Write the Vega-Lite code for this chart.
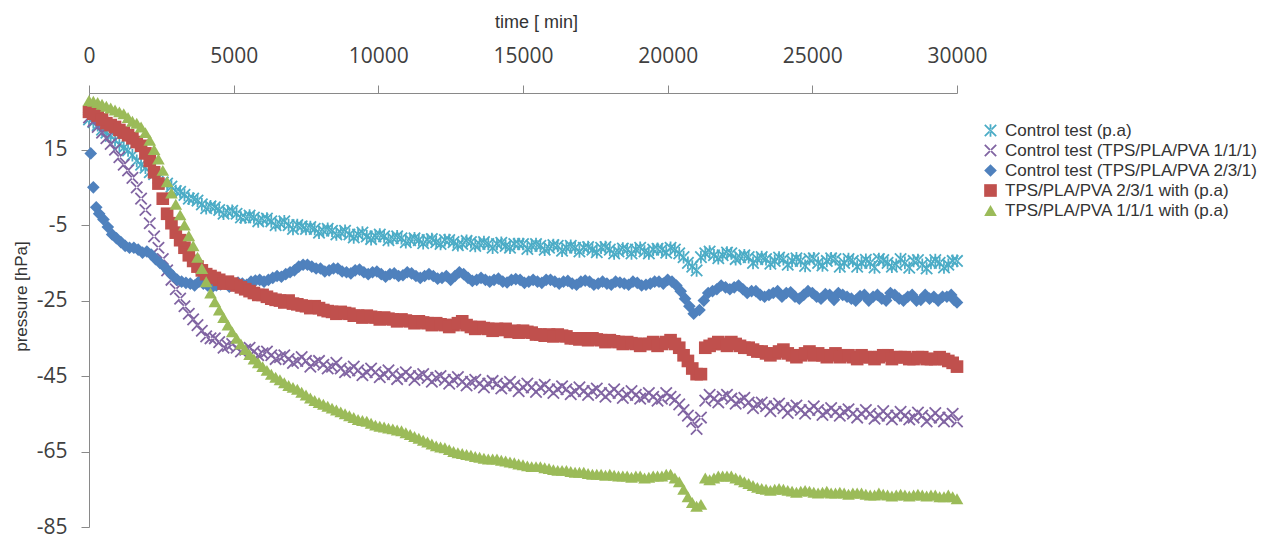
{
"$schema": "https://vega.github.io/schema/vega-lite/v6.json",
"autosize": {"type": "none"},
"width": 868,
"height": 434,
"padding": {"left": 89, "top": 93, "right": 312, "bottom": 11},
"background": "white",
"config": {"view": {"stroke": null}},
"data": {"values": [
{"s":"C","t":0,"p":23},{"s":"C","t":300,"p":21.5},{"s":"C","t":600,"p":19.5},{"s":"C","t":900,"p":17.5},{"s":"C","t":1200,"p":15.5},{"s":"C","t":1500,"p":13.5},{"s":"C","t":1800,"p":11},{"s":"C","t":2100,"p":9},{"s":"C","t":2400,"p":7.5},{"s":"C","t":2700,"p":6},{"s":"C","t":3000,"p":4},{"s":"C","t":3300,"p":3},{"s":"C","t":3600,"p":2},{"s":"C","t":3900,"p":0.5},{"s":"C","t":4200,"p":0},{"s":"C","t":4500,"p":-1},{"s":"C","t":4800,"p":-1.5},{"s":"C","t":5100,"p":-2},{"s":"C","t":5400,"p":-3},{"s":"C","t":5700,"p":-3},{"s":"C","t":6000,"p":-3.5},{"s":"C","t":6300,"p":-4},{"s":"C","t":6600,"p":-4.5},{"s":"C","t":6900,"p":-5},{"s":"C","t":7200,"p":-5},{"s":"C","t":7500,"p":-6},{"s":"C","t":7800,"p":-6},{"s":"C","t":8100,"p":-6.5},{"s":"C","t":8400,"p":-6.5},{"s":"C","t":8700,"p":-7},{"s":"C","t":9000,"p":-7.5},{"s":"C","t":9300,"p":-7.5},{"s":"C","t":9600,"p":-8},{"s":"C","t":9900,"p":-8},{"s":"C","t":10200,"p":-8},{"s":"C","t":10500,"p":-8.5},{"s":"C","t":10800,"p":-8.5},{"s":"C","t":11100,"p":-9},{"s":"C","t":11400,"p":-9},{"s":"C","t":11700,"p":-9},{"s":"C","t":12000,"p":-9.5},{"s":"C","t":12300,"p":-9},{"s":"C","t":12600,"p":-9.5},{"s":"C","t":12900,"p":-10},{"s":"C","t":13200,"p":-9.5},{"s":"C","t":13500,"p":-10},{"s":"C","t":13800,"p":-10},{"s":"C","t":14100,"p":-10},{"s":"C","t":14400,"p":-10.5},{"s":"C","t":14700,"p":-10},{"s":"C","t":15000,"p":-10},{"s":"C","t":15300,"p":-10.5},{"s":"C","t":15600,"p":-10.5},{"s":"C","t":15900,"p":-11},{"s":"C","t":16200,"p":-10.5},{"s":"C","t":16500,"p":-11},{"s":"C","t":16800,"p":-11},{"s":"C","t":17100,"p":-11},{"s":"C","t":17400,"p":-11.5},{"s":"C","t":17700,"p":-11},{"s":"C","t":18000,"p":-11.5},{"s":"C","t":18300,"p":-12},{"s":"C","t":18600,"p":-11.5},{"s":"C","t":18900,"p":-11.5},{"s":"C","t":19200,"p":-12},{"s":"C","t":19500,"p":-11.5},{"s":"C","t":19800,"p":-11.5},{"s":"C","t":20100,"p":-11},{"s":"C","t":20400,"p":-12.5},{"s":"C","t":20700,"p":-15},{"s":"C","t":21000,"p":-17},{"s":"C","t":21300,"p":-12.5},{"s":"C","t":21600,"p":-13},{"s":"C","t":21900,"p":-13},{"s":"C","t":22200,"p":-12.5},{"s":"C","t":22500,"p":-13.5},{"s":"C","t":22800,"p":-13.5},{"s":"C","t":23100,"p":-14},{"s":"C","t":23400,"p":-14},{"s":"C","t":23700,"p":-14.5},{"s":"C","t":24000,"p":-14},{"s":"C","t":24300,"p":-14.5},{"s":"C","t":24600,"p":-14.5},{"s":"C","t":24900,"p":-14},{"s":"C","t":25200,"p":-15},{"s":"C","t":25500,"p":-14.5},{"s":"C","t":25800,"p":-14},{"s":"C","t":26100,"p":-15},{"s":"C","t":26400,"p":-14.5},{"s":"C","t":26700,"p":-15},{"s":"C","t":27000,"p":-15},{"s":"C","t":27300,"p":-14},{"s":"C","t":27600,"p":-15},{"s":"C","t":27900,"p":-15.5},{"s":"C","t":28200,"p":-15},{"s":"C","t":28500,"p":-14.5},{"s":"C","t":28800,"p":-15.5},{"s":"C","t":29100,"p":-15},{"s":"C","t":29400,"p":-15},{"s":"C","t":29700,"p":-15.5},{"s":"C","t":30000,"p":-14.5},
{"s":"C","t":150,"p":22.3},{"s":"C","t":450,"p":20.3},{"s":"C","t":750,"p":18.6},{"s":"C","t":1050,"p":16.3},{"s":"C","t":1350,"p":14.8},{"s":"C","t":1650,"p":12},{"s":"C","t":1950,"p":10.2},{"s":"C","t":2250,"p":8.5},{"s":"C","t":2550,"p":6.3},{"s":"C","t":2850,"p":5.2},{"s":"C","t":3150,"p":3.8},{"s":"C","t":3450,"p":2},{"s":"C","t":3750,"p":1.5},{"s":"C","t":4050,"p":-0.5},{"s":"C","t":4350,"p":-0.3},{"s":"C","t":4650,"p":-2},{"s":"C","t":4950,"p":-1.2},{"s":"C","t":5250,"p":-3},{"s":"C","t":5550,"p":-2.5},{"s":"C","t":5850,"p":-4},{"s":"C","t":6150,"p":-3.3},{"s":"C","t":6450,"p":-5},{"s":"C","t":6750,"p":-4},{"s":"C","t":7050,"p":-6},{"s":"C","t":7350,"p":-5.3},{"s":"C","t":7650,"p":-5.5},{"s":"C","t":7950,"p":-7},{"s":"C","t":8250,"p":-6},{"s":"C","t":8550,"p":-7.5},{"s":"C","t":8850,"p":-6.5},{"s":"C","t":9150,"p":-8.3},{"s":"C","t":9450,"p":-7},{"s":"C","t":9750,"p":-8.7},{"s":"C","t":10050,"p":-7.5},{"s":"C","t":10350,"p":-9},{"s":"C","t":10650,"p":-8},{"s":"C","t":10950,"p":-9.5},{"s":"C","t":11250,"p":-8.5},{"s":"C","t":11550,"p":-9.8},{"s":"C","t":11850,"p":-8.7},{"s":"C","t":12150,"p":-10},{"s":"C","t":12450,"p":-9},{"s":"C","t":12750,"p":-10.3},{"s":"C","t":13050,"p":-9.2},{"s":"C","t":13350,"p":-10.5},{"s":"C","t":13650,"p":-9.5},{"s":"C","t":13950,"p":-11},{"s":"C","t":14250,"p":-9.7},{"s":"C","t":14550,"p":-11},{"s":"C","t":14850,"p":-10},{"s":"C","t":15150,"p":-11.3},{"s":"C","t":15450,"p":-10},{"s":"C","t":15750,"p":-11.5},{"s":"C","t":16050,"p":-10.3},{"s":"C","t":16350,"p":-11.8},{"s":"C","t":16650,"p":-10.5},{"s":"C","t":16950,"p":-12},{"s":"C","t":17250,"p":-10.8},{"s":"C","t":17550,"p":-12.2},{"s":"C","t":17850,"p":-10.8},{"s":"C","t":18150,"p":-12.5},{"s":"C","t":18450,"p":-11.2},{"s":"C","t":18750,"p":-12.5},{"s":"C","t":19050,"p":-11},{"s":"C","t":19350,"p":-12.5},{"s":"C","t":19650,"p":-11.3},{"s":"C","t":19950,"p":-12.3},{"s":"C","t":20250,"p":-11.5},{"s":"C","t":20550,"p":-13.5},{"s":"C","t":20850,"p":-16},{"s":"C","t":21150,"p":-13.5},{"s":"C","t":21450,"p":-12},{"s":"C","t":21750,"p":-13.8},{"s":"C","t":22050,"p":-12.3},{"s":"C","t":22350,"p":-14},{"s":"C","t":22650,"p":-13},{"s":"C","t":22950,"p":-15},{"s":"C","t":23250,"p":-13.5},{"s":"C","t":23550,"p":-15.2},{"s":"C","t":23850,"p":-13.6},{"s":"C","t":24150,"p":-15.5},{"s":"C","t":24450,"p":-13.8},{"s":"C","t":24750,"p":-15.8},{"s":"C","t":25050,"p":-13.8},{"s":"C","t":25350,"p":-15.7},{"s":"C","t":25650,"p":-13.8},{"s":"C","t":25950,"p":-16},{"s":"C","t":26250,"p":-14},{"s":"C","t":26550,"p":-16},{"s":"C","t":26850,"p":-14.2},{"s":"C","t":27150,"p":-16.2},{"s":"C","t":27450,"p":-14.3},{"s":"C","t":27750,"p":-16},{"s":"C","t":28050,"p":-14},{"s":"C","t":28350,"p":-16.3},{"s":"C","t":28650,"p":-14.3},{"s":"C","t":28950,"p":-16.5},{"s":"C","t":29250,"p":-14.3},{"s":"C","t":29550,"p":-16.2},{"s":"C","t":29850,"p":-14.5},
{"s":"X","t":0,"p":23.5},{"s":"X","t":300,"p":21},{"s":"X","t":600,"p":18},{"s":"X","t":900,"p":15},{"s":"X","t":1200,"p":11},{"s":"X","t":1500,"p":7.5},{"s":"X","t":1800,"p":2},{"s":"X","t":2100,"p":-4.5},{"s":"X","t":2400,"p":-11},{"s":"X","t":2700,"p":-17},{"s":"X","t":3000,"p":-22},{"s":"X","t":3300,"p":-26.5},{"s":"X","t":3600,"p":-30},{"s":"X","t":3900,"p":-33},{"s":"X","t":4200,"p":-35},{"s":"X","t":4500,"p":-36},{"s":"X","t":4800,"p":-37},{"s":"X","t":5100,"p":-37.5},{"s":"X","t":5400,"p":-38},{"s":"X","t":5700,"p":-38.5},{"s":"X","t":6000,"p":-39},{"s":"X","t":6300,"p":-39.5},{"s":"X","t":6600,"p":-40},{"s":"X","t":6900,"p":-40.5},{"s":"X","t":7200,"p":-41},{"s":"X","t":7500,"p":-41},{"s":"X","t":7800,"p":-41.5},{"s":"X","t":8100,"p":-42},{"s":"X","t":8400,"p":-42.5},{"s":"X","t":8700,"p":-43},{"s":"X","t":9000,"p":-43.5},{"s":"X","t":9300,"p":-43.5},{"s":"X","t":9600,"p":-44},{"s":"X","t":9900,"p":-44},{"s":"X","t":10200,"p":-44.5},{"s":"X","t":10500,"p":-44.5},{"s":"X","t":10800,"p":-45},{"s":"X","t":11100,"p":-45},{"s":"X","t":11400,"p":-45},{"s":"X","t":11700,"p":-45.5},{"s":"X","t":12000,"p":-45.5},{"s":"X","t":12300,"p":-46},{"s":"X","t":12600,"p":-46},{"s":"X","t":12900,"p":-46.5},{"s":"X","t":13200,"p":-46.5},{"s":"X","t":13500,"p":-47},{"s":"X","t":13800,"p":-47},{"s":"X","t":14100,"p":-47},{"s":"X","t":14400,"p":-47.5},{"s":"X","t":14700,"p":-47.5},{"s":"X","t":15000,"p":-48},{"s":"X","t":15300,"p":-48},{"s":"X","t":15600,"p":-48},{"s":"X","t":15900,"p":-48.5},{"s":"X","t":16200,"p":-48.5},{"s":"X","t":16500,"p":-48.5},{"s":"X","t":16800,"p":-49},{"s":"X","t":17100,"p":-49},{"s":"X","t":17400,"p":-49},{"s":"X","t":17700,"p":-49.5},{"s":"X","t":18000,"p":-49.5},{"s":"X","t":18300,"p":-49.5},{"s":"X","t":18600,"p":-50},{"s":"X","t":18900,"p":-50},{"s":"X","t":19200,"p":-50.5},{"s":"X","t":19500,"p":-50.5},{"s":"X","t":19800,"p":-51},{"s":"X","t":20100,"p":-50.5},{"s":"X","t":20400,"p":-52.5},{"s":"X","t":20700,"p":-55.5},{"s":"X","t":21000,"p":-59},{"s":"X","t":21300,"p":-51.5},{"s":"X","t":21600,"p":-51},{"s":"X","t":21900,"p":-50.5},{"s":"X","t":22200,"p":-51},{"s":"X","t":22500,"p":-51.5},{"s":"X","t":22800,"p":-52},{"s":"X","t":23100,"p":-52.5},{"s":"X","t":23400,"p":-53},{"s":"X","t":23700,"p":-53},{"s":"X","t":24000,"p":-53.5},{"s":"X","t":24300,"p":-53.5},{"s":"X","t":24600,"p":-54},{"s":"X","t":24900,"p":-54},{"s":"X","t":25200,"p":-54},{"s":"X","t":25500,"p":-54.5},{"s":"X","t":25800,"p":-54.5},{"s":"X","t":26100,"p":-54.5},{"s":"X","t":26400,"p":-55},{"s":"X","t":26700,"p":-55},{"s":"X","t":27000,"p":-55},{"s":"X","t":27300,"p":-55.5},{"s":"X","t":27600,"p":-55.5},{"s":"X","t":27900,"p":-55.5},{"s":"X","t":28200,"p":-55.5},{"s":"X","t":28500,"p":-56},{"s":"X","t":28800,"p":-55.5},{"s":"X","t":29100,"p":-56},{"s":"X","t":29400,"p":-56},{"s":"X","t":29700,"p":-56},{"s":"X","t":30000,"p":-57},
{"s":"X","t":150,"p":22.5},{"s":"X","t":450,"p":19.5},{"s":"X","t":750,"p":16.5},{"s":"X","t":1050,"p":13},{"s":"X","t":1350,"p":9.5},{"s":"X","t":1650,"p":5},{"s":"X","t":1950,"p":-1},{"s":"X","t":2250,"p":-8},{"s":"X","t":2550,"p":-14},{"s":"X","t":2850,"p":-19.5},{"s":"X","t":3150,"p":-24.5},{"s":"X","t":3450,"p":-28.5},{"s":"X","t":3750,"p":-31.5},{"s":"X","t":4050,"p":-34.5},{"s":"X","t":4350,"p":-35},{"s":"X","t":4650,"p":-37.5},{"s":"X","t":4950,"p":-36.5},{"s":"X","t":5250,"p":-38.5},{"s":"X","t":5550,"p":-37.5},{"s":"X","t":5850,"p":-39.5},{"s":"X","t":6150,"p":-38.5},{"s":"X","t":6450,"p":-40.5},{"s":"X","t":6750,"p":-39.5},{"s":"X","t":7050,"p":-41.5},{"s":"X","t":7350,"p":-40},{"s":"X","t":7650,"p":-42.5},{"s":"X","t":7950,"p":-41},{"s":"X","t":8250,"p":-43},{"s":"X","t":8550,"p":-41.5},{"s":"X","t":8850,"p":-44},{"s":"X","t":9150,"p":-42.5},{"s":"X","t":9450,"p":-44.8},{"s":"X","t":9750,"p":-43},{"s":"X","t":10050,"p":-45.3},{"s":"X","t":10350,"p":-43.5},{"s":"X","t":10650,"p":-45.8},{"s":"X","t":10950,"p":-44},{"s":"X","t":11250,"p":-46},{"s":"X","t":11550,"p":-44.5},{"s":"X","t":11850,"p":-46.5},{"s":"X","t":12150,"p":-45},{"s":"X","t":12450,"p":-47},{"s":"X","t":12750,"p":-45.3},{"s":"X","t":13050,"p":-47.5},{"s":"X","t":13350,"p":-46},{"s":"X","t":13650,"p":-48},{"s":"X","t":13950,"p":-46.3},{"s":"X","t":14250,"p":-48.3},{"s":"X","t":14550,"p":-46.5},{"s":"X","t":14850,"p":-49},{"s":"X","t":15150,"p":-47},{"s":"X","t":15450,"p":-49.2},{"s":"X","t":15750,"p":-47.3},{"s":"X","t":16050,"p":-49.5},{"s":"X","t":16350,"p":-47.7},{"s":"X","t":16650,"p":-49.8},{"s":"X","t":16950,"p":-48},{"s":"X","t":17250,"p":-50},{"s":"X","t":17550,"p":-48.3},{"s":"X","t":17850,"p":-50.5},{"s":"X","t":18150,"p":-48.5},{"s":"X","t":18450,"p":-50.8},{"s":"X","t":18750,"p":-49},{"s":"X","t":19050,"p":-51},{"s":"X","t":19350,"p":-49.5},{"s":"X","t":19650,"p":-51.5},{"s":"X","t":19950,"p":-49.5},{"s":"X","t":20250,"p":-51.3},{"s":"X","t":20550,"p":-54},{"s":"X","t":20850,"p":-57},{"s":"X","t":21150,"p":-56},{"s":"X","t":21450,"p":-50},{"s":"X","t":21750,"p":-52},{"s":"X","t":22050,"p":-50},{"s":"X","t":22350,"p":-52.3},{"s":"X","t":22650,"p":-50.8},{"s":"X","t":22950,"p":-53.5},{"s":"X","t":23250,"p":-52},{"s":"X","t":23550,"p":-54.3},{"s":"X","t":23850,"p":-52.3},{"s":"X","t":24150,"p":-54.8},{"s":"X","t":24450,"p":-52.8},{"s":"X","t":24750,"p":-55},{"s":"X","t":25050,"p":-53},{"s":"X","t":25350,"p":-55.3},{"s":"X","t":25650,"p":-53.5},{"s":"X","t":25950,"p":-55.5},{"s":"X","t":26250,"p":-53.8},{"s":"X","t":26550,"p":-56},{"s":"X","t":26850,"p":-54},{"s":"X","t":27150,"p":-56.3},{"s":"X","t":27450,"p":-54.3},{"s":"X","t":27750,"p":-56.5},{"s":"X","t":28050,"p":-54.5},{"s":"X","t":28350,"p":-56.5},{"s":"X","t":28650,"p":-54.7},{"s":"X","t":28950,"p":-57},{"s":"X","t":29250,"p":-54.8},{"s":"X","t":29550,"p":-57},{"s":"X","t":29850,"p":-55},
{"s":"B","t":60,"p":14},{"s":"B","t":150,"p":5},{"s":"B","t":250,"p":-0.3},{"s":"B","t":500,"p":-3.5},{"s":"B","t":800,"p":-7.5},{"s":"B","t":1100,"p":-9.5},{"s":"B","t":1400,"p":-11},{"s":"B","t":1700,"p":-11.5},{"s":"B","t":2000,"p":-12},{"s":"B","t":2300,"p":-14},{"s":"B","t":2600,"p":-16},{"s":"B","t":2900,"p":-18.5},{"s":"B","t":3200,"p":-20},{"s":"B","t":3500,"p":-20.5},{"s":"B","t":3800,"p":-20},{"s":"B","t":4100,"p":-21},{"s":"B","t":4400,"p":-21},{"s":"B","t":4700,"p":-20.5},{"s":"B","t":5000,"p":-21},{"s":"B","t":5300,"p":-20.5},{"s":"B","t":5600,"p":-20},{"s":"B","t":5900,"p":-19.5},{"s":"B","t":6200,"p":-19.5},{"s":"B","t":6500,"p":-18.5},{"s":"B","t":6800,"p":-18},{"s":"B","t":7100,"p":-17},{"s":"B","t":7400,"p":-15.5},{"s":"B","t":7700,"p":-16},{"s":"B","t":8000,"p":-16.5},{"s":"B","t":8300,"p":-17},{"s":"B","t":8600,"p":-16.5},{"s":"B","t":8900,"p":-17.5},{"s":"B","t":9200,"p":-17},{"s":"B","t":9500,"p":-17.5},{"s":"B","t":9800,"p":-17.5},{"s":"B","t":10100,"p":-18},{"s":"B","t":10400,"p":-18},{"s":"B","t":10700,"p":-18.5},{"s":"B","t":11000,"p":-17.5},{"s":"B","t":11300,"p":-18.5},{"s":"B","t":11600,"p":-18.5},{"s":"B","t":11900,"p":-18.5},{"s":"B","t":12200,"p":-19},{"s":"B","t":12500,"p":-19.5},{"s":"B","t":12800,"p":-17.5},{"s":"B","t":13100,"p":-19},{"s":"B","t":13400,"p":-19.5},{"s":"B","t":13700,"p":-19.5},{"s":"B","t":14000,"p":-19.5},{"s":"B","t":14300,"p":-20},{"s":"B","t":14600,"p":-19.5},{"s":"B","t":14900,"p":-19.5},{"s":"B","t":15200,"p":-20},{"s":"B","t":15500,"p":-20},{"s":"B","t":15800,"p":-19.5},{"s":"B","t":16100,"p":-20},{"s":"B","t":16400,"p":-20},{"s":"B","t":16700,"p":-20.5},{"s":"B","t":17000,"p":-20},{"s":"B","t":17300,"p":-20},{"s":"B","t":17600,"p":-20.5},{"s":"B","t":17900,"p":-20.5},{"s":"B","t":18200,"p":-20},{"s":"B","t":18500,"p":-20.5},{"s":"B","t":18800,"p":-20},{"s":"B","t":19100,"p":-21},{"s":"B","t":19400,"p":-20.5},{"s":"B","t":19700,"p":-20},{"s":"B","t":20000,"p":-19.5},{"s":"B","t":20300,"p":-21},{"s":"B","t":20600,"p":-24.5},{"s":"B","t":20900,"p":-28.5},{"s":"B","t":21100,"p":-27.5},{"s":"B","t":21400,"p":-23},{"s":"B","t":21700,"p":-22},{"s":"B","t":22000,"p":-21.5},{"s":"B","t":22300,"p":-21.5},{"s":"B","t":22600,"p":-22},{"s":"B","t":22900,"p":-22.5},{"s":"B","t":23200,"p":-23.5},{"s":"B","t":23500,"p":-23.5},{"s":"B","t":23800,"p":-22.5},{"s":"B","t":24100,"p":-23},{"s":"B","t":24400,"p":-24},{"s":"B","t":24700,"p":-23.5},{"s":"B","t":25000,"p":-23},{"s":"B","t":25300,"p":-24.5},{"s":"B","t":25600,"p":-23.5},{"s":"B","t":25900,"p":-23},{"s":"B","t":26200,"p":-24},{"s":"B","t":26500,"p":-25},{"s":"B","t":26800,"p":-23.5},{"s":"B","t":27100,"p":-24},{"s":"B","t":27400,"p":-24.5},{"s":"B","t":27700,"p":-23},{"s":"B","t":28000,"p":-24.5},{"s":"B","t":28300,"p":-24},{"s":"B","t":28600,"p":-25},{"s":"B","t":28900,"p":-23.5},{"s":"B","t":29200,"p":-24},{"s":"B","t":29500,"p":-24},{"s":"B","t":29800,"p":-23.5},{"s":"B","t":30000,"p":-25.5},
{"s":"B","t":350,"p":-2},{"s":"B","t":650,"p":-5.5},{"s":"B","t":950,"p":-8.5},{"s":"B","t":1250,"p":-10.5},{"s":"B","t":1550,"p":-11},{"s":"B","t":1850,"p":-12.3},{"s":"B","t":2150,"p":-12.8},{"s":"B","t":2450,"p":-15},{"s":"B","t":2750,"p":-17.3},{"s":"B","t":3050,"p":-19.5},{"s":"B","t":3350,"p":-20.3},{"s":"B","t":3650,"p":-21},{"s":"B","t":3950,"p":-20.5},{"s":"B","t":4250,"p":-21.5},{"s":"B","t":4550,"p":-20.7},{"s":"B","t":4850,"p":-21.3},{"s":"B","t":5150,"p":-20.2},{"s":"B","t":5450,"p":-20.8},{"s":"B","t":5750,"p":-19.7},{"s":"B","t":6050,"p":-20},{"s":"B","t":6350,"p":-19},{"s":"B","t":6650,"p":-18.7},{"s":"B","t":6950,"p":-17.5},{"s":"B","t":7250,"p":-16},{"s":"B","t":7550,"p":-15.5},{"s":"B","t":7850,"p":-16.5},{"s":"B","t":8150,"p":-17.3},{"s":"B","t":8450,"p":-16.5},{"s":"B","t":8750,"p":-17.3},{"s":"B","t":9050,"p":-17.8},{"s":"B","t":9350,"p":-16.8},{"s":"B","t":9650,"p":-18},{"s":"B","t":9950,"p":-17.3},{"s":"B","t":10250,"p":-18.7},{"s":"B","t":10550,"p":-17.8},{"s":"B","t":10850,"p":-18.3},{"s":"B","t":11150,"p":-17.8},{"s":"B","t":11450,"p":-19},{"s":"B","t":11750,"p":-18},{"s":"B","t":12050,"p":-19.2},{"s":"B","t":12350,"p":-18.5},{"s":"B","t":12650,"p":-18.5},{"s":"B","t":12950,"p":-18},{"s":"B","t":13250,"p":-19.8},{"s":"B","t":13550,"p":-19},{"s":"B","t":13850,"p":-20},{"s":"B","t":14150,"p":-19.2},{"s":"B","t":14450,"p":-20.2},{"s":"B","t":14750,"p":-19.3},{"s":"B","t":15050,"p":-20.3},{"s":"B","t":15350,"p":-19.5},{"s":"B","t":15650,"p":-20.3},{"s":"B","t":15950,"p":-19.5},{"s":"B","t":16250,"p":-20.5},{"s":"B","t":16550,"p":-19.8},{"s":"B","t":16850,"p":-20.8},{"s":"B","t":17150,"p":-19.7},{"s":"B","t":17450,"p":-20.8},{"s":"B","t":17750,"p":-20},{"s":"B","t":18050,"p":-20.8},{"s":"B","t":18350,"p":-20.2},{"s":"B","t":18650,"p":-20.8},{"s":"B","t":18950,"p":-20.3},{"s":"B","t":19250,"p":-20.8},{"s":"B","t":19550,"p":-20},{"s":"B","t":19850,"p":-20.5},{"s":"B","t":20150,"p":-20},{"s":"B","t":20450,"p":-22.5},{"s":"B","t":20750,"p":-26.5},{"s":"B","t":21250,"p":-25},{"s":"B","t":21550,"p":-22.5},{"s":"B","t":21850,"p":-21},{"s":"B","t":22150,"p":-22},{"s":"B","t":22450,"p":-21},{"s":"B","t":22750,"p":-23},{"s":"B","t":23050,"p":-22.5},{"s":"B","t":23350,"p":-24},{"s":"B","t":23650,"p":-23},{"s":"B","t":23950,"p":-24},{"s":"B","t":24250,"p":-22.8},{"s":"B","t":24550,"p":-24.5},{"s":"B","t":24850,"p":-22.5},{"s":"B","t":25150,"p":-24},{"s":"B","t":25450,"p":-23.3},{"s":"B","t":25750,"p":-24.8},{"s":"B","t":26050,"p":-23.5},{"s":"B","t":26350,"p":-24.5},{"s":"B","t":26650,"p":-23.8},{"s":"B","t":26950,"p":-25},{"s":"B","t":27250,"p":-23.5},{"s":"B","t":27550,"p":-25},{"s":"B","t":27850,"p":-23.5},{"s":"B","t":28150,"p":-25},{"s":"B","t":28450,"p":-23.5},{"s":"B","t":28750,"p":-24.8},{"s":"B","t":29050,"p":-24.5},{"s":"B","t":29350,"p":-25},{"s":"B","t":29650,"p":-24},{"s":"B","t":29900,"p":-24.8},
{"s":"R","t":0,"p":25},{"s":"R","t":300,"p":24},{"s":"R","t":600,"p":22},{"s":"R","t":900,"p":21},{"s":"R","t":1200,"p":19.5},{"s":"R","t":1500,"p":18},{"s":"R","t":1800,"p":16},{"s":"R","t":2100,"p":12},{"s":"R","t":2400,"p":6},{"s":"R","t":2700,"p":-2},{"s":"R","t":3000,"p":-7},{"s":"R","t":3300,"p":-11},{"s":"R","t":3600,"p":-14.5},{"s":"R","t":3900,"p":-17},{"s":"R","t":4200,"p":-18.5},{"s":"R","t":4500,"p":-19.5},{"s":"R","t":4800,"p":-20},{"s":"R","t":5100,"p":-21},{"s":"R","t":5400,"p":-22},{"s":"R","t":5700,"p":-23},{"s":"R","t":6000,"p":-23.5},{"s":"R","t":6300,"p":-24.5},{"s":"R","t":6600,"p":-25},{"s":"R","t":6900,"p":-25},{"s":"R","t":7200,"p":-26},{"s":"R","t":7500,"p":-26.5},{"s":"R","t":7800,"p":-26.5},{"s":"R","t":8100,"p":-27.5},{"s":"R","t":8400,"p":-28},{"s":"R","t":8700,"p":-28},{"s":"R","t":9000,"p":-28.5},{"s":"R","t":9300,"p":-29},{"s":"R","t":9600,"p":-29},{"s":"R","t":9900,"p":-29.5},{"s":"R","t":10200,"p":-29.5},{"s":"R","t":10500,"p":-30},{"s":"R","t":10800,"p":-30},{"s":"R","t":11100,"p":-30.5},{"s":"R","t":11400,"p":-30.5},{"s":"R","t":11700,"p":-31},{"s":"R","t":12000,"p":-31},{"s":"R","t":12300,"p":-31.5},{"s":"R","t":12600,"p":-31.5},{"s":"R","t":12900,"p":-30.5},{"s":"R","t":13200,"p":-32},{"s":"R","t":13500,"p":-32},{"s":"R","t":13800,"p":-32.5},{"s":"R","t":14100,"p":-32.5},{"s":"R","t":14400,"p":-32.5},{"s":"R","t":14700,"p":-33},{"s":"R","t":15000,"p":-33},{"s":"R","t":15300,"p":-33.5},{"s":"R","t":15600,"p":-34},{"s":"R","t":15900,"p":-34},{"s":"R","t":16200,"p":-34},{"s":"R","t":16500,"p":-34.5},{"s":"R","t":16800,"p":-35},{"s":"R","t":17100,"p":-35},{"s":"R","t":17400,"p":-35},{"s":"R","t":17700,"p":-35.5},{"s":"R","t":18000,"p":-35.5},{"s":"R","t":18300,"p":-36},{"s":"R","t":18600,"p":-36},{"s":"R","t":18900,"p":-36.5},{"s":"R","t":19200,"p":-36.5},{"s":"R","t":19500,"p":-36},{"s":"R","t":19800,"p":-36.5},{"s":"R","t":20100,"p":-35.5},{"s":"R","t":20400,"p":-37.5},{"s":"R","t":20700,"p":-41},{"s":"R","t":21000,"p":-44.5},{"s":"R","t":21300,"p":-37.5},{"s":"R","t":21600,"p":-36.5},{"s":"R","t":21900,"p":-36.5},{"s":"R","t":22200,"p":-36},{"s":"R","t":22500,"p":-37},{"s":"R","t":22800,"p":-37.5},{"s":"R","t":23100,"p":-38.5},{"s":"R","t":23400,"p":-39},{"s":"R","t":23700,"p":-39},{"s":"R","t":24000,"p":-38},{"s":"R","t":24300,"p":-39.5},{"s":"R","t":24600,"p":-39.5},{"s":"R","t":24900,"p":-38.5},{"s":"R","t":25200,"p":-39},{"s":"R","t":25500,"p":-40},{"s":"R","t":25800,"p":-39},{"s":"R","t":26100,"p":-39.5},{"s":"R","t":26400,"p":-40},{"s":"R","t":26700,"p":-39.5},{"s":"R","t":27000,"p":-40},{"s":"R","t":27300,"p":-40},{"s":"R","t":27600,"p":-39.5},{"s":"R","t":27900,"p":-40},{"s":"R","t":28200,"p":-40},{"s":"R","t":28500,"p":-40.5},{"s":"R","t":28800,"p":-40},{"s":"R","t":29100,"p":-40.5},{"s":"R","t":29400,"p":-40},{"s":"R","t":29700,"p":-41},{"s":"R","t":30000,"p":-42.5},
{"s":"R","t":150,"p":24.5},{"s":"R","t":450,"p":23},{"s":"R","t":750,"p":21.5},{"s":"R","t":1050,"p":20.2},{"s":"R","t":1350,"p":18.8},{"s":"R","t":1650,"p":17},{"s":"R","t":1950,"p":14},{"s":"R","t":2250,"p":9},{"s":"R","t":2550,"p":2},{"s":"R","t":2850,"p":-4.5},{"s":"R","t":3150,"p":-9},{"s":"R","t":3450,"p":-13},{"s":"R","t":3750,"p":-16},{"s":"R","t":4050,"p":-18},{"s":"R","t":4350,"p":-19},{"s":"R","t":4650,"p":-20.5},{"s":"R","t":4950,"p":-20.5},{"s":"R","t":5250,"p":-21.5},{"s":"R","t":5550,"p":-22.5},{"s":"R","t":5850,"p":-23.5},{"s":"R","t":6150,"p":-24},{"s":"R","t":6450,"p":-24.8},{"s":"R","t":6750,"p":-25.5},{"s":"R","t":7050,"p":-25.8},{"s":"R","t":7350,"p":-26.3},{"s":"R","t":7650,"p":-27},{"s":"R","t":7950,"p":-27},{"s":"R","t":8250,"p":-27.8},{"s":"R","t":8550,"p":-28.5},{"s":"R","t":8850,"p":-28.3},{"s":"R","t":9150,"p":-29},{"s":"R","t":9450,"p":-29.5},{"s":"R","t":9750,"p":-29.3},{"s":"R","t":10050,"p":-30},{"s":"R","t":10350,"p":-29.8},{"s":"R","t":10650,"p":-30.5},{"s":"R","t":10950,"p":-30.3},{"s":"R","t":11250,"p":-31},{"s":"R","t":11550,"p":-30.8},{"s":"R","t":11850,"p":-31.5},{"s":"R","t":12150,"p":-31.3},{"s":"R","t":12450,"p":-32},{"s":"R","t":12750,"p":-31},{"s":"R","t":13050,"p":-31.5},{"s":"R","t":13350,"p":-32.5},{"s":"R","t":13650,"p":-32.3},{"s":"R","t":13950,"p":-33},{"s":"R","t":14250,"p":-32.8},{"s":"R","t":14550,"p":-33.3},{"s":"R","t":14850,"p":-33.5},{"s":"R","t":15150,"p":-33.3},{"s":"R","t":15450,"p":-34},{"s":"R","t":15750,"p":-34.3},{"s":"R","t":16050,"p":-34.5},{"s":"R","t":16350,"p":-34.3},{"s":"R","t":16650,"p":-35},{"s":"R","t":16950,"p":-35.3},{"s":"R","t":17250,"p":-35.5},{"s":"R","t":17550,"p":-35.3},{"s":"R","t":17850,"p":-36},{"s":"R","t":18150,"p":-35.8},{"s":"R","t":18450,"p":-36.5},{"s":"R","t":18750,"p":-36.3},{"s":"R","t":19050,"p":-37},{"s":"R","t":19350,"p":-36.5},{"s":"R","t":19650,"p":-37},{"s":"R","t":19950,"p":-36},{"s":"R","t":20250,"p":-36.5},{"s":"R","t":20550,"p":-39.5},{"s":"R","t":20850,"p":-43},{"s":"R","t":21150,"p":-44.5},{"s":"R","t":21450,"p":-37},{"s":"R","t":21750,"p":-36},{"s":"R","t":22050,"p":-37},{"s":"R","t":22350,"p":-36.5},{"s":"R","t":22650,"p":-37.5},{"s":"R","t":22950,"p":-38},{"s":"R","t":23250,"p":-38.5},{"s":"R","t":23550,"p":-39.5},{"s":"R","t":23850,"p":-38.5},{"s":"R","t":24150,"p":-39},{"s":"R","t":24450,"p":-40},{"s":"R","t":24750,"p":-39},{"s":"R","t":25050,"p":-39.5},{"s":"R","t":25350,"p":-39.5},{"s":"R","t":25650,"p":-39.5},{"s":"R","t":25950,"p":-40},{"s":"R","t":26250,"p":-39.5},{"s":"R","t":26550,"p":-40.5},{"s":"R","t":26850,"p":-40},{"s":"R","t":27150,"p":-40.5},{"s":"R","t":27450,"p":-39.5},{"s":"R","t":27750,"p":-40.5},{"s":"R","t":28050,"p":-40},{"s":"R","t":28350,"p":-40.5},{"s":"R","t":28650,"p":-40},{"s":"R","t":28950,"p":-40.5},{"s":"R","t":29250,"p":-40.5},{"s":"R","t":29550,"p":-40.5},{"s":"R","t":29850,"p":-41.5},
{"s":"G","t":0,"p":28},{"s":"G","t":300,"p":27.5},{"s":"G","t":600,"p":26.5},{"s":"G","t":900,"p":25.5},{"s":"G","t":1200,"p":24.5},{"s":"G","t":1500,"p":22.5},{"s":"G","t":1800,"p":21},{"s":"G","t":2100,"p":17.5},{"s":"G","t":2400,"p":12.5},{"s":"G","t":2700,"p":6.5},{"s":"G","t":3000,"p":0.5},{"s":"G","t":3300,"p":-5},{"s":"G","t":3600,"p":-10.5},{"s":"G","t":3900,"p":-16.5},{"s":"G","t":4200,"p":-23},{"s":"G","t":4500,"p":-27.5},{"s":"G","t":4800,"p":-31.5},{"s":"G","t":5100,"p":-35},{"s":"G","t":5400,"p":-38},{"s":"G","t":5700,"p":-40.5},{"s":"G","t":6000,"p":-42.5},{"s":"G","t":6300,"p":-44.5},{"s":"G","t":6600,"p":-46},{"s":"G","t":6900,"p":-47.5},{"s":"G","t":7200,"p":-48.5},{"s":"G","t":7500,"p":-50},{"s":"G","t":7800,"p":-51.5},{"s":"G","t":8100,"p":-52.5},{"s":"G","t":8400,"p":-53.5},{"s":"G","t":8700,"p":-54.5},{"s":"G","t":9000,"p":-55.5},{"s":"G","t":9300,"p":-56.5},{"s":"G","t":9600,"p":-57},{"s":"G","t":9900,"p":-58},{"s":"G","t":10200,"p":-58.5},{"s":"G","t":10500,"p":-59},{"s":"G","t":10800,"p":-59.5},{"s":"G","t":11100,"p":-60.5},{"s":"G","t":11400,"p":-61.5},{"s":"G","t":11700,"p":-62.5},{"s":"G","t":12000,"p":-63.5},{"s":"G","t":12300,"p":-64},{"s":"G","t":12600,"p":-65},{"s":"G","t":12900,"p":-65.5},{"s":"G","t":13200,"p":-66},{"s":"G","t":13500,"p":-66.5},{"s":"G","t":13800,"p":-67},{"s":"G","t":14100,"p":-67},{"s":"G","t":14400,"p":-67.5},{"s":"G","t":14700,"p":-68},{"s":"G","t":15000,"p":-68.5},{"s":"G","t":15300,"p":-69},{"s":"G","t":15600,"p":-69},{"s":"G","t":15900,"p":-69.5},{"s":"G","t":16200,"p":-70},{"s":"G","t":16500,"p":-70},{"s":"G","t":16800,"p":-70.5},{"s":"G","t":17100,"p":-70.5},{"s":"G","t":17400,"p":-71},{"s":"G","t":17700,"p":-71},{"s":"G","t":18000,"p":-71},{"s":"G","t":18300,"p":-71.5},{"s":"G","t":18600,"p":-71.5},{"s":"G","t":18900,"p":-71.5},{"s":"G","t":19200,"p":-72},{"s":"G","t":19500,"p":-71.5},{"s":"G","t":19800,"p":-71.5},{"s":"G","t":20100,"p":-71},{"s":"G","t":20400,"p":-73},{"s":"G","t":20700,"p":-77},{"s":"G","t":21000,"p":-79.5},{"s":"G","t":21300,"p":-72},{"s":"G","t":21600,"p":-72},{"s":"G","t":21900,"p":-71.5},{"s":"G","t":22200,"p":-71.5},{"s":"G","t":22500,"p":-72.5},{"s":"G","t":22800,"p":-73.5},{"s":"G","t":23100,"p":-74.5},{"s":"G","t":23400,"p":-75},{"s":"G","t":23700,"p":-75},{"s":"G","t":24000,"p":-75},{"s":"G","t":24300,"p":-75.5},{"s":"G","t":24600,"p":-75.5},{"s":"G","t":24900,"p":-75.5},{"s":"G","t":25200,"p":-76},{"s":"G","t":25500,"p":-75.5},{"s":"G","t":25800,"p":-76},{"s":"G","t":26100,"p":-76},{"s":"G","t":26400,"p":-76},{"s":"G","t":26700,"p":-76},{"s":"G","t":27000,"p":-76.5},{"s":"G","t":27300,"p":-76},{"s":"G","t":27600,"p":-76.5},{"s":"G","t":27900,"p":-76.5},{"s":"G","t":28200,"p":-76.5},{"s":"G","t":28500,"p":-76.5},{"s":"G","t":28800,"p":-76.5},{"s":"G","t":29100,"p":-76.5},{"s":"G","t":29400,"p":-77},{"s":"G","t":29700,"p":-76.5},{"s":"G","t":30000,"p":-77.5},
{"s":"G","t":150,"p":27.8},{"s":"G","t":450,"p":27},{"s":"G","t":750,"p":26},{"s":"G","t":1050,"p":25},{"s":"G","t":1350,"p":23.5},{"s":"G","t":1650,"p":22},{"s":"G","t":1950,"p":19.5},{"s":"G","t":2250,"p":15},{"s":"G","t":2550,"p":9.5},{"s":"G","t":2850,"p":3.5},{"s":"G","t":3150,"p":-2.3},{"s":"G","t":3450,"p":-7.8},{"s":"G","t":3750,"p":-13.5},{"s":"G","t":4050,"p":-20},{"s":"G","t":4350,"p":-25.3},{"s":"G","t":4650,"p":-29.5},{"s":"G","t":4950,"p":-33.3},{"s":"G","t":5250,"p":-36.5},{"s":"G","t":5550,"p":-39.3},{"s":"G","t":5850,"p":-41.5},{"s":"G","t":6150,"p":-43.5},{"s":"G","t":6450,"p":-45.3},{"s":"G","t":6750,"p":-46.8},{"s":"G","t":7050,"p":-48},{"s":"G","t":7350,"p":-49.3},{"s":"G","t":7650,"p":-50.8},{"s":"G","t":7950,"p":-52},{"s":"G","t":8250,"p":-53},{"s":"G","t":8550,"p":-54},{"s":"G","t":8850,"p":-55},{"s":"G","t":9150,"p":-56},{"s":"G","t":9450,"p":-56.8},{"s":"G","t":9750,"p":-57.5},{"s":"G","t":10050,"p":-58.3},{"s":"G","t":10350,"p":-58.8},{"s":"G","t":10650,"p":-59.3},{"s":"G","t":10950,"p":-60},{"s":"G","t":11250,"p":-61},{"s":"G","t":11550,"p":-62},{"s":"G","t":11850,"p":-63},{"s":"G","t":12150,"p":-63.8},{"s":"G","t":12450,"p":-64.5},{"s":"G","t":12750,"p":-65.3},{"s":"G","t":13050,"p":-65.8},{"s":"G","t":13350,"p":-66.3},{"s":"G","t":13650,"p":-66.8},{"s":"G","t":13950,"p":-67},{"s":"G","t":14250,"p":-67.3},{"s":"G","t":14550,"p":-67.8},{"s":"G","t":14850,"p":-68.3},{"s":"G","t":15150,"p":-68.8},{"s":"G","t":15450,"p":-69},{"s":"G","t":15750,"p":-69.3},{"s":"G","t":16050,"p":-69.8},{"s":"G","t":16350,"p":-70},{"s":"G","t":16650,"p":-70.3},{"s":"G","t":16950,"p":-70.5},{"s":"G","t":17250,"p":-70.8},{"s":"G","t":17550,"p":-71},{"s":"G","t":17850,"p":-71.3},{"s":"G","t":18150,"p":-71.3},{"s":"G","t":18450,"p":-71.5},{"s":"G","t":18750,"p":-71.8},{"s":"G","t":19050,"p":-71.5},{"s":"G","t":19350,"p":-71.8},{"s":"G","t":19650,"p":-71.5},{"s":"G","t":19950,"p":-71},{"s":"G","t":20250,"p":-72},{"s":"G","t":20550,"p":-75},{"s":"G","t":20850,"p":-78.5},{"s":"G","t":21150,"p":-79},{"s":"G","t":21450,"p":-72.5},{"s":"G","t":21750,"p":-71.5},{"s":"G","t":22050,"p":-71.5},{"s":"G","t":22350,"p":-72},{"s":"G","t":22650,"p":-73},{"s":"G","t":22950,"p":-74},{"s":"G","t":23250,"p":-74.8},{"s":"G","t":23550,"p":-75.3},{"s":"G","t":23850,"p":-74.8},{"s":"G","t":24150,"p":-75.3},{"s":"G","t":24450,"p":-75.8},{"s":"G","t":24750,"p":-75.3},{"s":"G","t":25050,"p":-75.8},{"s":"G","t":25350,"p":-75.8},{"s":"G","t":25650,"p":-76},{"s":"G","t":25950,"p":-75.8},{"s":"G","t":26250,"p":-76.3},{"s":"G","t":26550,"p":-76},{"s":"G","t":26850,"p":-76.3},{"s":"G","t":27150,"p":-76.5},{"s":"G","t":27450,"p":-76.3},{"s":"G","t":27750,"p":-76.8},{"s":"G","t":28050,"p":-76.3},{"s":"G","t":28350,"p":-76.8},{"s":"G","t":28650,"p":-76.3},{"s":"G","t":28950,"p":-76.8},{"s":"G","t":29250,"p":-76.5},{"s":"G","t":29550,"p":-77},{"s":"G","t":29850,"p":-77}
]},
"mark": {"type": "point", "filled": true, "opacity": 1, "strokeWidth": 0},
"encoding": {
  "x": {"field": "t", "type": "quantitative",
    "scale": {"domain": [0, 30000], "nice": false, "zero": false},
    "axis": {"orient": "top", "title": "time [ min]", "values": [0,5000,10000,15000,20000,25000,30000], "format": "d", "labelFlush": false, "labelOverlap": false,
      "grid": false, "domainColor": "#898989", "tickColor": "#898989", "tickSize": 8,
      "labelFont": "Open Sans", "labelFontSize": 21, "labelColor": "#404040", "labelPadding": 23, "labelBaseline": "alphabetic",
      "titleFont": "Liberation Sans", "titleFontSize": 18, "titleFontWeight": "normal", "titleColor": "#333333",
      "titleX": 447, "titleY": -71, "titleBaseline": "middle", "titleAlign": "center"}},
  "y": {"field": "p", "type": "quantitative",
    "scale": {"domain": [-85, 30], "nice": false, "zero": false},
    "axis": {"title": "pressure [hPa]", "values": [-85,-65,-45,-25,-5,15], "labelExpr": "'' + datum.value", "labelFlush": false, "labelOverlap": false,
      "grid": false, "domainColor": "#898989", "tickColor": "#898989", "tickSize": 8,
      "labelFont": "Open Sans", "labelFontSize": 21, "labelColor": "#404040", "labelPadding": 14,
      "titleFont": "Liberation Sans", "titleFontSize": 17, "titleFontWeight": "normal", "titleColor": "#333333",
      "titleX": -68, "titleY": 203, "titleBaseline": "middle", "titleAlign": "center", "titleAngle": -90}},
  "size": {"field": "s", "type": "nominal", "legend": null,
    "scale": {"domain": ["C","X","B","R","G"], "range": [160, 160, 135, 120, 135]}},
  "color": {"field": "s", "type": "nominal",
    "scale": {"domain": ["C","X","B","R","G"], "range": ["#4BACC6","#8064A2","#4F81BD","#C0504D","#9BBB59"]},
    "legend": {"orient": "none", "legendX": 893, "legendY": 29, "title": null,
      "labelExpr": "datum.label == 'C' ? 'Control test (p.a)' : datum.label == 'X' ? 'Control test (TPS/PLA/PVA 1/1/1)' : datum.label == 'B' ? 'Control test (TPS/PLA/PVA 2/3/1)' : datum.label == 'R' ? 'TPS/PLA/PVA 2/3/1 with (p.a)' : 'TPS/PLA/PVA 1/1/1 with (p.a)'",
      "labelFont": "Liberation Sans", "labelFontSize": 17, "labelColor": "#333333", "labelLimit": 400,
      "symbolSize": 80, "symbolStrokeWidth": 0, "symbolOpacity": 1, "rowPadding": 2, "labelOffset": 6, "padding": 0}},
  "shape": {"field": "s", "type": "nominal",
    "scale": {"domain": ["C","X","B","R","G"], "range": ["M-1,-0.8L-0.8,-1L1,0.8L0.8,1ZM-1,0.8L-0.8,1L1,-0.8L0.8,-1ZM-0.14,-1L0.14,-1L0.14,1L-0.14,1Z", "M-1,-0.8L-0.8,-1L1,0.8L0.8,1ZM-1,0.8L-0.8,1L1,-0.8L0.8,-1Z", "diamond", "square", "triangle-up"]}}
}
}
